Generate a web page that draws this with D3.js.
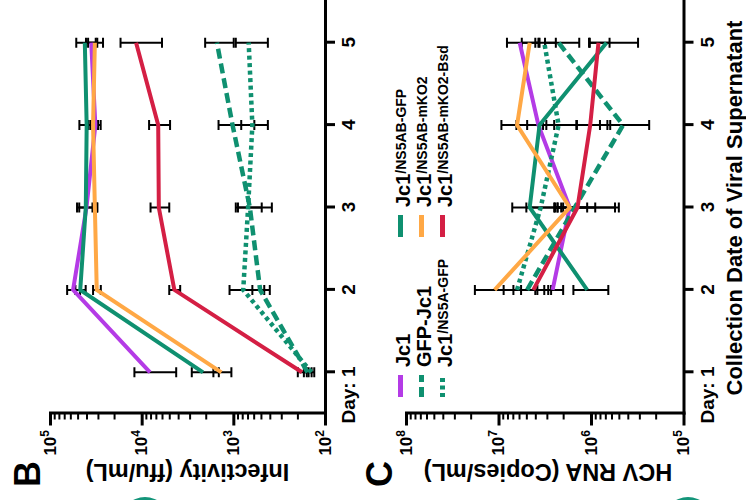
<!DOCTYPE html>
<html>
<head>
<meta charset="utf-8">
<script src="https://cdn.jsdelivr.net/npm/d3@7"></script>
<style>
  body { margin: 0; background: #fff; }
  svg { display: block; }
  text { font-family: "Liberation Sans", Arial, sans-serif; font-weight: bold; fill: #000; }
</style>
</head>
<body>
<svg id="chart" width="746" height="500"></svg>
<script>
// Days on the x axis
const days = [1, 2, 3, 4, 5];

// Series, in legend order
const seriesMain = ['Jc1', 'GFP-Jc1', 'Jc1', 'Jc1', 'Jc1', 'Jc1'];
const seriesSup = ['', '', '/NS5A-GFP', '/NS5AB-GFP', '/NS5AB-mKO2', '/NS5AB-mKO2-Bsd'];
const seriesColor = ['#b43be6', '#0f9070', '#0f9070', '#0f9070', '#ffa845', '#d41f44'];
const seriesDash = [null, '10,5', '4,3.5', null, null, null];

// Panel B: infectivity (ffu/mL), mean and SD per day
const infMean = [
  [8100, 56000, 40000, 32000, 35500],
  [155, 510, 660, 1020, 1510],
  [141, 780, 690, 620, 680],
  [2140, 46800, 40700, 39800, 41700],
  [1350, 30900, 32400, 33900, 32400],
  [178, 4400, 6500, 6600, 11500]
];
const infSD = [
  [3900, 9000, 8000, 4000, 5000],
  [15, 110, 280, 430, 520],
  [10, 320, 200, 200, 260],
  [700, 6000, 10000, 8000, 10000],
  [300, 3000, 2000, 4000, 6000],
  [20, 600, 1500, 1700, 5500]
];

// Panel C: HCV RNA (copies/mL), no day 1 samples
const rnaMean = [
  [null, 2.6e6, 1.7e6, 3.7e6, 5.9e6],
  [null, 4.9e6, 1.5e6, 4.5e5, 2.24e6],
  [null, 6.3e6, 3.5e6, 2.24e6, 3.2e6],
  [null, 1.1e6, 4.6e6, 3.6e6, 6.8e5],
  [null, 1.1e7, 1.7e6, 6.3e6, 4.6e6],
  [null, 4.2e6, 1.4e6, 1.02e6, 8.3e5]
];
const rnaSD = [
  [null, 6e5, 8e5, 1.2e6, 2.2e6],
  [null, 2.0e6, 9.5e5, 2.15e5, 9e5],
  [null, 2.5e6, 1.5e6, 8e5, 8e5],
  [null, 4.5e5, 2.5e6, 2.8e6, 3.7e5],
  [null, 7e6, 6e5, 3.0e6, 1.0e6],
  [null, 1.5e6, 9e5, 4e5, 2e5]
];

const svg = d3.select('#chart');

// The figure is drawn upright, then turned a quarter turn counter-clockwise
const root = svg.append('g').attr('transform', 'translate(0,500) rotate(-90)');

const x = d3.scaleLinear().domain([0.5, 5.5]).range([86.5, 498.5]);

function panel(o) {
  const y = d3.scaleLog().domain(o.domain).range([o.bottom, o.top]);
  const g = root.append('g');

  // x axis (days)
  const xa = g.append('g')
    .attr('transform', `translate(0,${o.bottom})`)
    .call(d3.axisBottom(x).tickValues(days).tickSize(10).tickSizeOuter(0).tickPadding(7)
      .tickFormat(d => d === 1 ? 'Day: 1' : d));
  xa.select('.domain').attr('stroke-width', 3).attr('stroke-linecap', 'square');
  xa.selectAll('.tick line').attr('stroke-width', 3);
  xa.selectAll('.tick text').attr('font-size', 19).attr('font-family', null)
    .filter(d => d === 1).attr('text-anchor', 'end').attr('dx', 5.3);

  // y axis (log, with minor ticks)
  const [lo, hi] = o.domain;
  const major = d3.range(Math.log10(lo), Math.log10(hi) + 1).map(e => Math.pow(10, e));
  const minor = [];
  major.slice(0, -1).forEach(m => { for (let k = 2; k <= 9; k++) minor.push(m * k); });

  const ya = g.append('g')
    .attr('transform', 'translate(86.5,0)')
    .call(d3.axisLeft(y).tickValues(major).tickSize(12).tickSizeOuter(0).tickFormat(''));
  ya.select('.domain').attr('stroke-width', 3).attr('stroke-linecap', 'square');
  ya.selectAll('.tick line').attr('stroke-width', 3);

  g.append('g')
    .attr('transform', 'translate(86.5,0)')
    .call(d3.axisLeft(y).tickValues(minor).tickSize(6).tickSizeOuter(0).tickFormat(''))
    .call(s => s.select('.domain').remove())
    .selectAll('.tick line').attr('stroke-width', 2);

  const lab = g.append('g').selectAll('text')
    .data(major).join('text')
    .attr('x', 70).attr('y', d => y(d)).attr('dy', '0.36em')
    .attr('text-anchor', 'end');
  lab.append('tspan').attr('font-size', 17).text('10');
  lab.append('tspan').attr('font-size', 12).attr('dy', -7).text(d => Math.round(Math.log10(d)));

  // y title
  g.append('text')
    .attr('transform', `translate(36,${o.titleY}) rotate(-90)`)
    .attr('text-anchor', 'middle').attr('font-size', 23.5)
    .text(o.title);

  // panel letter
  g.append('text')
    .attr('x', 26).attr('y', o.letterY)
    .attr('text-anchor', 'middle').attr('font-size', 36)
    .text(o.letter);

  // error bars
  const bars = [];
  o.mean.forEach((row, i) => row.forEach((m, j) => {
    if (m == null) return;
    const s = o.sd[i][j];
    bars.push({ day: days[j], hi: m + s, lo: Math.max(m - s, lo) });
  }));
  const eb = g.append('g').attr('stroke', '#000').attr('stroke-width', 2).attr('fill', 'none');
  eb.selectAll('path').data(bars).join('path')
    .attr('d', d => {
      const cx = x(d.day), y1 = y(d.hi), y2 = y(d.lo);
      return `M${cx},${y1}V${y2}M${cx - 5},${y1}H${cx + 5}M${cx - 5},${y2}H${cx + 5}`;
    });

  // series lines
  const line = d3.line()
    .defined(d => d.v != null)
    .x(d => x(d.day))
    .y(d => y(d.v));
  g.append('g').selectAll('path')
    .data(o.mean.map((row, i) => ({ i, pts: row.map((v, j) => ({ day: days[j], v })) })))
    .join('path')
    .attr('fill', 'none')
    .attr('stroke', d => seriesColor[d.i])
    .attr('stroke-width', d => seriesDash[d.i] ? 4.5 : 4)
    .attr('stroke-dasharray', d => seriesDash[d.i])
    .attr('d', d => line(d.pts));
}

panel({
  domain: [1e2, 1e5], bottom: 325, top: 50,
  mean: infMean, sd: infSD,
  title: 'Infectivity (ffu/mL)', titleY: 187.5,
  letter: 'B', letterY: 40
});

panel({
  domain: [1e5, 1e8], bottom: 683.5, top: 406,
  mean: rnaMean, sd: rnaSD,
  title: 'HCV RNA (Copies/mL)', titleY: 548,
  letter: 'C', letterY: 392
});

// shared x title under panel C
root.append('text')
  .attr('x', 292).attr('y', 742)
  .attr('text-anchor', 'middle').attr('font-size', 22)
  .text('Collection Date of Viral Supernatant');

// legend, two groups of three
const leg = root.append('g').selectAll('g')
  .data(seriesMain.map((m, i) => i))
  .join('g')
  .attr('transform', i => `translate(${i < 3 ? 103 : 263},${400.5 + (i % 3) * 21})`);
leg.append('line')
  .attr('x1', 0).attr('x2', 22)
  .attr('stroke', i => seriesColor[i])
  .attr('stroke-width', 5)
  .attr('stroke-dasharray', i => seriesDash[i]);
const lt = leg.append('text').attr('x', 30).attr('y', 9);
lt.append('tspan').attr('font-size', 20).text(i => seriesMain[i]);
lt.append('tspan').attr('font-size', 14).attr('dy', -4).text(i => seriesSup[i]);

// edges of the round markers from the panels below
root.append('g').selectAll('circle')
  .data([145, 688])
  .join('circle')
  .attr('cx', -22).attr('cy', d => d).attr('r', 25)
  .attr('fill', '#14957a');
</script>
</body>
</html>
